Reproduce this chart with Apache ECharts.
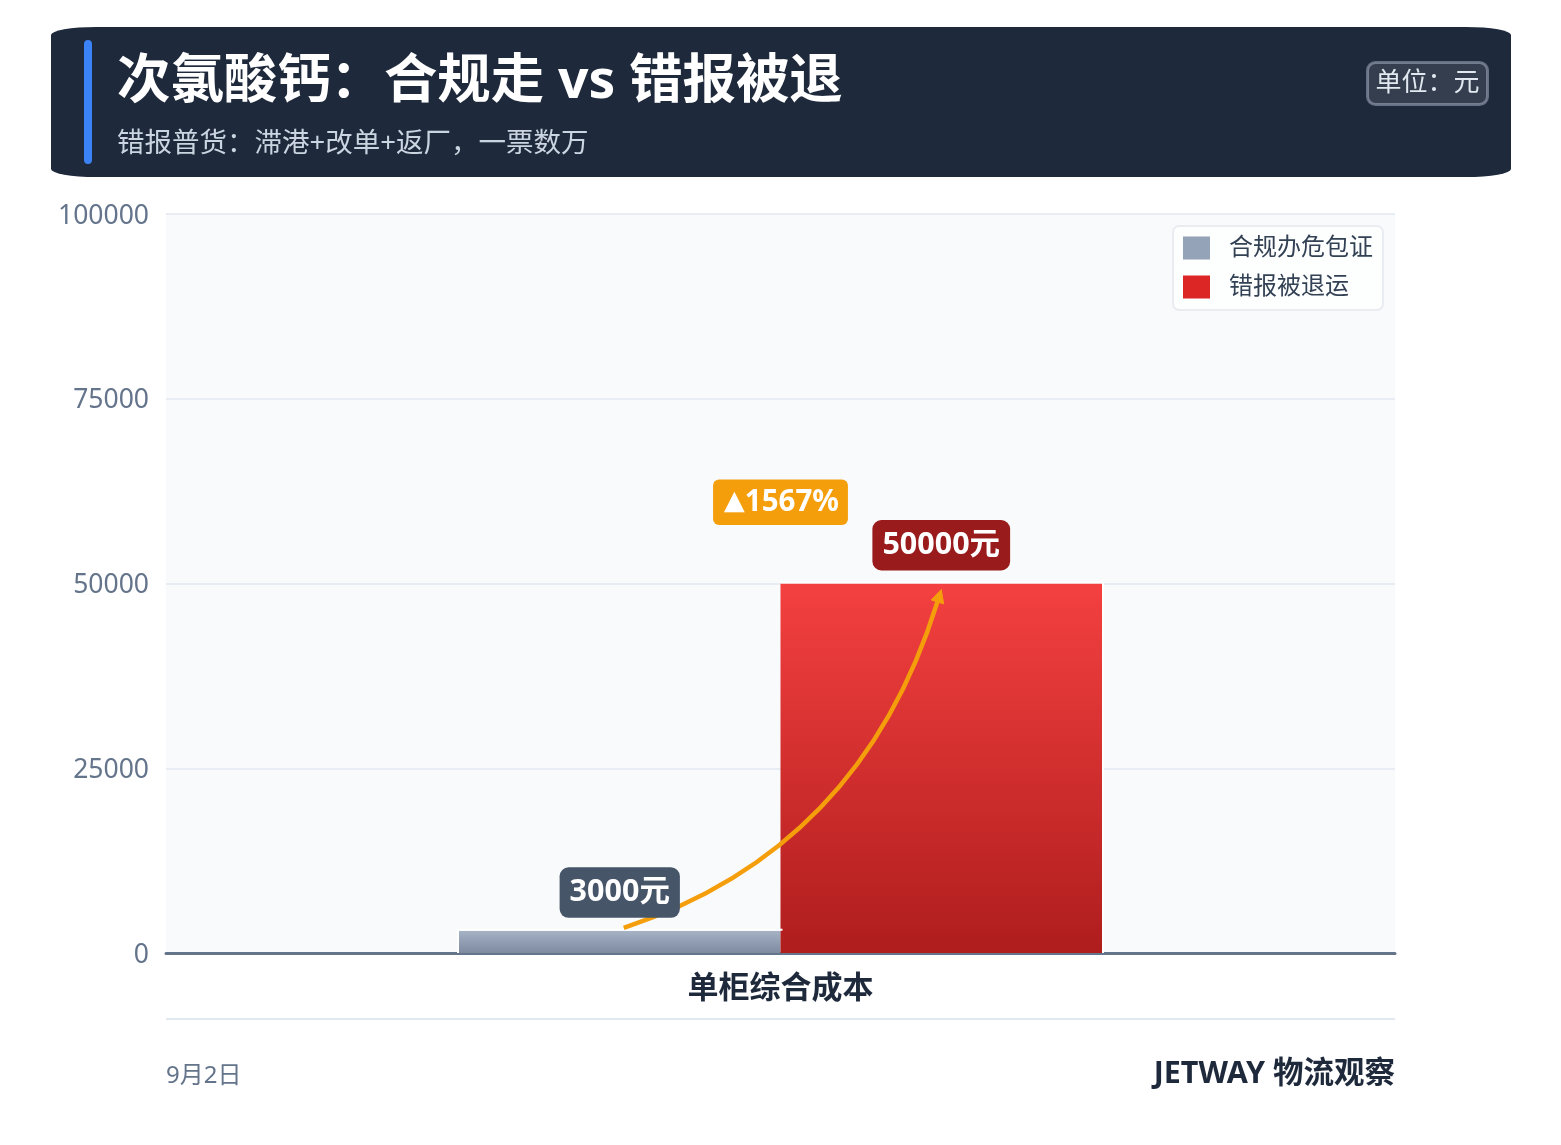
<!DOCTYPE html>
<html>
<head>
<meta charset="utf-8">
<title>次氯酸钙：合规走 vs 错报被退</title>
<script src="https://cdn.jsdelivr.net/npm/echarts@6/dist/echarts.min.js"></script>
<style>
  html, body { margin: 0; padding: 0; background: #fff; }
  #head { position: absolute; left: 51px; top: 27px; width: 1460px; height: 150px; background: #1e293b; border-radius: 45px / 8px; }
  #bar { position: absolute; left: 84px; top: 40px; width: 8px; height: 124px; background: #3b82f6; border-radius: 4px; }
  #chart { position: absolute; left: 0; top: 0; width: 1561px; height: 1145px; }
</style>
</head>
<body>
<div id="head"></div>
<div id="bar"></div>
<div id="chart"></div>
<script>
var FONT = '"Noto Sans", "Noto Sans CJK SC", sans-serif';

var categories = ['单柜综合成本'];
var seriesNames = ['合规办危包证', '错报被退运'];
var compliantValues = [3000];
var rejectedValues = [50000];
var yTicks = { min: 0, max: 100000, interval: 25000 };
var increaseLabel = '1567%';
var increaseLevel = 61000; // 标签中心大概的高度
var compliantText = '3000元';
var rejectedText = '50000元';

var BAR_RATIO = 0.2616;

function tag(x, y, text, bg) {
  return {
    type: 'text',
    x: x,
    y: y,
    style: {
      text: text,
      font: 'bold 30.5px ' + FONT,
      fill: '#fff',
      align: 'center',
      verticalAlign: 'bottom',
      backgroundColor: bg,
      borderRadius: 9,
      padding: [10, 10, 10, 10]
    }
  };
}

// 柱子外沿的白边 + 箭头曲线,起止点跟着两根柱子走
function renderArrow(params, api) {
  var band = api.size([1, 0])[0];
  var half = band * BAR_RATIO / 2;
  var a = api.coord([0, compliantValues[0]]);
  var b = api.coord([0, rejectedValues[0]]);
  var base = api.coord([0, 0])[1];
  var x0 = a[0] - half + 4, y0 = a[1] - 3;
  var x1 = b[0] + half, y1 = b[1] + 6;
  var cx = x0 + (x1 - x0) * 0.746;
  var cy = y0 - (y0 - y1) * 0.23;
  var ang = Math.atan2(y1 - cy, x1 - cx);
  var len = 13, wid = 6.5;
  var bx = x1 - Math.cos(ang) * len, by = y1 - Math.sin(ang) * len;
  var nx = -Math.sin(ang) * wid, ny = Math.cos(ang) * wid;
  var edge = { stroke: '#fff', lineWidth: 2, fill: null };
  return {
    type: 'group',
    children: [{
      type: 'polyline',
      shape: { points: [[a[0] - band * BAR_RATIO - 1, base], [a[0] - band * BAR_RATIO - 1, a[1] - 1], [a[0] + 2, a[1] - 1]] },
      style: edge
    }, {
      type: 'polyline',
      shape: { points: [[b[0], b[1] - 1], [b[0] + band * BAR_RATIO + 1, b[1] - 1], [b[0] + band * BAR_RATIO + 1, base]] },
      style: edge
    }, {
      type: 'bezierCurve',
      shape: { x1: x0, y1: y0, x2: bx, y2: by, cpx1: cx, cpy1: cy },
      style: { stroke: '#f59e0b', lineWidth: 4.5, fill: null }
    }, {
      type: 'polygon',
      shape: { points: [[x1, y1], [bx + nx, by + ny], [bx - nx, by - ny]] },
      style: { fill: '#f59e0b', stroke: '#f59e0b', lineWidth: 1, lineJoin: 'round' }
    }]
  };
}

function renderTags(params, api) {
  var band = api.size([1, 0])[0];
  var half = band * BAR_RATIO / 2;
  var a = api.coord([0, compliantValues[0]]);
  var b = api.coord([0, rejectedValues[0]]);
  var up = api.coord([0, increaseLevel]);
  var inc = tag(a[0], up[1], '{t|▲}' + increaseLabel, '#f59e0b');
  inc.style.font = 'bold 29.5px ' + FONT;
  inc.style.verticalAlign = 'middle';
  inc.style.borderRadius = 6;
  inc.style.padding = [8, 9, 8, 11];
  inc.style.rich = { t: { font: 'bold 27px "DejaVu Sans"', fill: '#fff' } };
  return {
    type: 'group',
    children: [
      tag(a[0] - half, a[1] - 13, compliantText, '#475569'),
      tag(b[0] + half, b[1] - 13, rejectedText, '#991b1b'),
      inc
    ]
  };
}

var chart = echarts.init(document.getElementById('chart'), null, { renderer: 'canvas' });
chart.setOption({
  backgroundColor: 'transparent',
  animation: false,
  textStyle: { fontFamily: FONT },
  title: {
    text: '次氯酸钙：合规走 vs 错报被退',
    subtext: '错报普货：滞港+改单+返厂，一票数万',
    left: 117,
    top: 56,
    padding: 0,
    itemGap: 21,
    textStyle: { color: '#fff', fontSize: 53.4, fontWeight: 'bold', fontFamily: FONT },
    subtextStyle: { color: '#cbd5e1', fontSize: 27.5, fontFamily: FONT }
  },
  legend: {
    right: 178,
    top: 226,
    orient: 'vertical',
    data: [
      { name: seriesNames[0], itemStyle: { color: '#94a3b8', borderWidth: 0 } },
      { name: seriesNames[1], itemStyle: { color: '#dc2626', borderWidth: 0 } }
    ],
    itemWidth: 27,
    itemHeight: 23,
    itemGap: 15,
    padding: [10, 10, 11, 10],
    backgroundColor: 'rgba(255,255,255,0.75)',
    borderColor: '#e9edf2',
    borderWidth: 2,
    borderRadius: 6,
    icon: 'rect',
    textStyle: { color: '#334155', fontSize: 24, fontFamily: FONT, padding: [4, 0, 0, 14] }
  },
  grid: { left: 166, right: 166, top: 214, bottom: 192, show: true, backgroundColor: '#f8fafc', borderWidth: 0 },
  xAxis: {
    type: 'category',
    data: categories,
    axisTick: { show: false },
    axisLine: { lineStyle: { color: '#64748b', width: 3 } },
    axisLabel: { color: '#1e293b', fontSize: 31, fontWeight: 'bold', margin: 21, fontFamily: FONT }
  },
  yAxis: {
    type: 'value',
    min: yTicks.min,
    max: yTicks.max,
    interval: yTicks.interval,
    axisLine: { show: false },
    axisTick: { show: false },
    axisLabel: {
      margin: 17,
      formatter: function (v) { return '{n|' + v + '}'; },
      rich: { n: { color: '#64748b', fontSize: 26.5, fontFamily: FONT, padding: [4, 0, 0, 0] } }
    },
    splitLine: { lineStyle: { color: '#e8edf3', width: 2 } }
  },
  series: [{
    name: seriesNames[0],
    type: 'bar',
    barWidth: (BAR_RATIO * 100) + '%',
    barGap: 0,
    data: compliantValues,
    itemStyle: {
      color: new echarts.graphic.LinearGradient(0, 0, 0, 1, [
        { offset: 0, color: '#a6b2c5' },
        { offset: 1, color: '#7d8aa0' }
      ])
    }
  }, {
    name: seriesNames[1],
    type: 'bar',
    barWidth: (BAR_RATIO * 100) + '%',
    barGap: 0,
    data: rejectedValues,
    itemStyle: {
      color: new echarts.graphic.LinearGradient(0, 0, 0, 1, [
        { offset: 0, color: '#f44040' },
        { offset: 1, color: '#af1d1d' }
      ])
    }
  }, {
    name: 'arrow',
    type: 'custom',
    z: 4,
    silent: true,
    data: [0],
    renderItem: renderArrow
  }, {
    name: 'tags',
    type: 'custom',
    z: 5,
    silent: true,
    data: [0],
    renderItem: renderTags
  }],
  graphic: [{
    type: 'text',
    right: 72,
    top: 61,
    style: {
      text: '单位：元',
      font: '26px ' + FONT,
      fill: '#e2e8f0',
      backgroundColor: 'rgba(255,255,255,0.1)',
      borderColor: '#667085',
      borderWidth: 1.5,
      borderRadius: 8,
      padding: [8, 8, 8, 8]
    }
  }, {
    type: 'line',
    shape: { x1: 166, y1: 1019, x2: 1395, y2: 1019 },
    style: { stroke: '#e2e8f0', lineWidth: 2 }
  }, {
    type: 'text',
    left: 166,
    top: 1064,
    style: { text: '9月2日', font: '24px ' + FONT, fill: '#64748b' }
  }, {
    type: 'text',
    right: 166,
    top: 1059,
    style: { text: 'JETWAY 物流观察', font: 'bold 30.5px ' + FONT, fill: '#1e293b' }
  }]
});
</script>
</body>
</html>
